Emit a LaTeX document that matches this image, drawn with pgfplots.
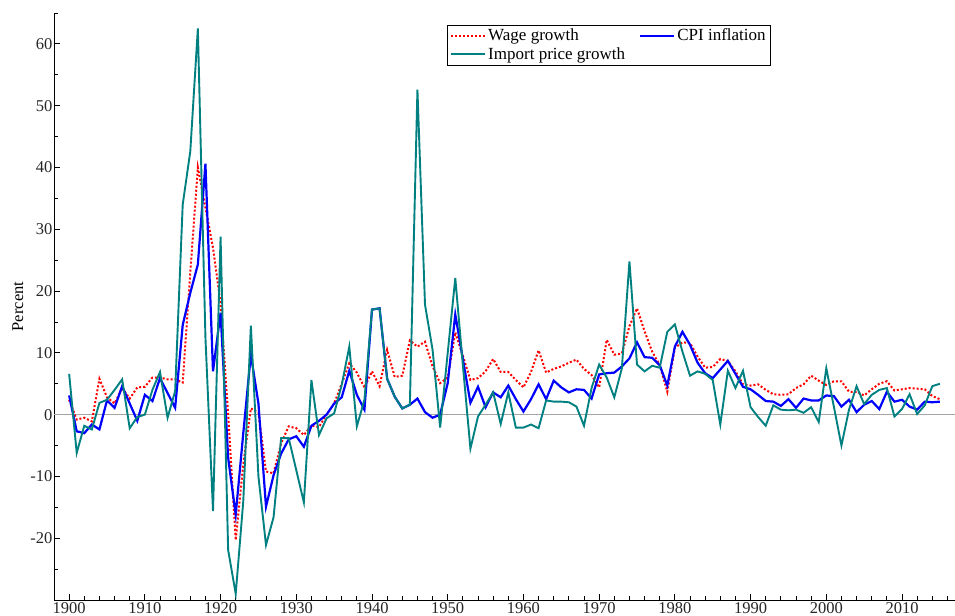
\documentclass[border=0pt]{standalone}
\usepackage{fontspec}
\setmainfont{Liberation Serif}
\usepackage{pgfplots}
\pgfplotsset{compat=1.18}
\usepackage{pgfplotstable}
\usetikzlibrary{calc}
\definecolor{tealc}{RGB}{0,128,128}
\definecolor{zerog}{RGB}{165,165,165}
\pgfplotstableread{
year wage cpi imp
1900 2.4 3.1 6.6
1901 -0.8 -2.7 -6.2
1902 -0.5 -3.0 -1.8
1903 -1.1 -1.6 -2.4
1904 5.8 -2.4 1.9
1905 2.8 2.3 2.4
1906 1.8 1.1 4.0
1907 4.3 4.6 5.7
1908 2.6 1.8 -2.2
1909 4.4 -1.0 -0.4
1910 4.5 3.2 0.0
1911 6.0 2.2 4.0
1912 6.0 5.9 6.9
1913 5.7 3.5 -0.5
1914 5.7 1.1 3.8
1915 5.2 14.5 34.0
1916 23.0 19.7 42.6
1917 40.0 24.3 62.5
1918 33.5 40.6 12.5
1919 27.0 7.0 -15.6
1920 18.0 16.5 28.8
1921 0.0 -7.0 -21.9
1922 -20.3 -16.2 -29.0
1923 -8.0 -3.0 -14.0
1924 1.0 9.7 14.4
1925 0.3 1.8 -10.0
1926 -9.2 -14.9 -21.1
1927 -9.5 -9.8 -16.6
1928 -4.6 -6.3 -3.8
1929 -1.9 -4.0 -3.8
1930 -2.2 -3.5 -9.0
1931 -3.3 -5.2 -14.2
1932 -1.8 -1.8 5.6
1933 -2.0 -1.0 -3.3
1934 0.0 0.0 -0.6
1935 1.8 1.8 0.2
1936 5.0 2.8 4.8
1937 8.3 7.1 11.0
1938 6.8 3.2 -1.9
1939 4.4 0.8 2.4
1940 7.0 17.0 17.0
1941 4.6 17.2 17.2
1942 10.5 5.8 5.8
1943 6.1 2.9 2.9
1944 6.3 1.0 1.0
1945 12.0 1.6 1.6
1946 11.0 2.6 52.6
1947 11.8 0.4 17.8
1948 7.8 -0.5 10.5
1949 5.1 0.0 -2.1
1950 6.0 5.1 10.0
1951 13.3 16.2 22.1
1952 9.5 9.0 8.0
1953 5.6 1.9 -5.5
1954 5.9 4.5 -0.3
1955 7.0 1.2 1.6
1956 9.0 3.6 3.6
1957 6.9 2.8 -1.5
1958 6.9 4.7 3.6
1959 5.6 2.5 -2.1
1960 4.4 0.5 -2.1
1961 6.9 2.5 -1.6
1962 10.4 4.9 -2.2
1963 6.8 2.5 2.3
1964 7.4 5.5 2.1
1965 7.8 4.4 2.1
1966 8.4 3.6 2.0
1967 8.9 4.1 1.3
1968 7.4 4.0 -1.8
1969 6.4 2.6 4.3
1970 4.4 6.5 8.1
1971 12.1 6.7 6.0
1972 9.7 6.8 2.8
1973 9.9 7.8 7.5
1974 14.3 9.1 24.8
1975 17.2 11.7 8.1
1976 13.5 9.3 7.0
1977 10.2 9.2 7.9
1978 8.0 8.0 7.6
1979 3.7 4.7 13.4
1980 10.8 11.0 14.6
1981 11.7 13.4 10.2
1982 11.6 11.3 6.3
1983 9.4 8.4 7.0
1984 7.6 6.7 6.6
1985 7.7 5.9 5.6
1986 9.0 7.3 -1.6
1987 8.7 8.7 7.1
1988 7.0 6.6 4.3
1989 4.9 4.5 7.1
1990 4.7 4.1 1.2
1991 4.9 3.2 -0.4
1992 4.0 2.2 -1.8
1993 3.3 2.1 1.5
1994 3.2 1.4 0.8
1995 3.3 2.5 0.7
1996 4.3 1.1 0.8
1997 4.9 2.6 0.3
1998 6.3 2.3 1.2
1999 5.5 2.3 -1.2
2000 4.8 3.1 7.5
2001 5.4 3.0 1.3
2002 5.4 1.3 -5.0
2003 3.7 2.4 0.8
2004 3.7 0.4 4.6
2005 3.1 1.6 1.7
2006 4.1 2.2 3.2
2007 5.0 0.9 4.0
2008 5.4 3.7 4.3
2009 3.9 2.1 -0.3
2010 4.1 2.4 0.9
2011 4.3 1.3 3.3
2012 4.2 0.8 0.1
2013 4.1 2.1 1.5
2014 3.0 2.0 4.6
2015 2.5 2.1 5.0
}\data
\begin{document}
\fontsize{16}{19}\selectfont
\begin{tikzpicture}
\begin{axis}[
  scale only axis, width=901pt, height=587pt,
  xmin=1898, xmax=2017, ymin=-30, ymax=65,
  axis x line*=bottom, axis y line*=left,
  axis line style={-, black, line width=0.8pt},
  tick align=inside,
  xtick={1900,1910,...,2010},
  minor xtick={1898,1900,...,2016},
  ytick={-20,-10,...,60},
  minor ytick={-30,-25,...,65},
  major tick length=6pt, minor tick length=4pt,
  tick style={black, line width=0.8pt},
  /pgf/number format/assume math mode=true,
  /pgf/number format/1000 sep={},
  tick label style={font=\fontsize{16.5}{19}\selectfont, text=black!85},
  yticklabel style={inner sep=1.5pt},
  xticklabel style={inner sep=2pt},
  ylabel={Percent},
  label style={font=\fontsize{16.5}{19}\selectfont},
  legend style={at={(rel axis cs:0.436,0.9796)}, anchor=north west,
    draw=black, line width=0.8pt, font=\fontsize{17}{18}\selectfont,
    inner xsep=3pt, inner ysep=1.5pt, cells={anchor=west},
    /tikz/every even column/.append style={column sep=12pt}},
  legend columns=2,
  legend image code/.code={\draw[#1] (0pt,0pt) -- (34pt,0pt);},
]
\addplot[zerog, line width=1.2pt, forget plot] coordinates {(1898,0) (2017,0)};
\addplot[red, line width=2pt, dash pattern=on 2pt off 2pt] table[x=year, y=wage] {\data};
\addlegendentry{Wage growth}
\addplot[blue, line width=2.2pt] table[x=year, y=cpi] {\data};
\addlegendentry{CPI inflation}
\addplot[tealc, line width=1.9pt] table[x=year, y=imp] {\data};
\addlegendentry{Import price growth}
\coordinate (bl) at (rel axis cs:0,0);
\coordinate (tr) at (rel axis cs:1,1);
\end{axis}
\pgfresetboundingbox
\path ($(bl)+(-54pt,-16pt)$) rectangle ($(tr)+(0pt,13pt)$);
\end{tikzpicture}
\end{document}
